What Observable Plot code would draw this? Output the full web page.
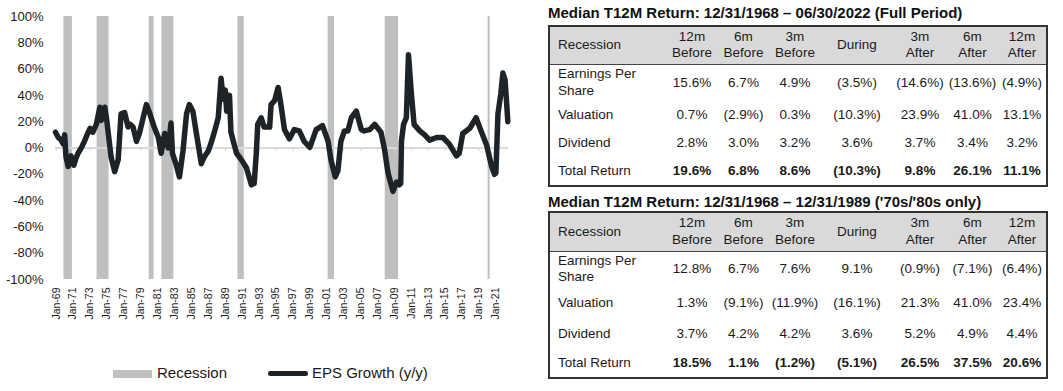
<!DOCTYPE html>
<html><head><meta charset="utf-8">
<script src="https://cdn.jsdelivr.net/npm/d3@7"></script>
<script src="https://cdn.jsdelivr.net/npm/@observablehq/plot@0.6"></script>
<style>
body{margin:0;background:#fff;font-family:"Liberation Sans",Arial,sans-serif;color:#1a1a1a}
#wrap{position:relative;width:1063px;height:391px;overflow:hidden}
#chart{position:absolute;left:0;top:0}
.lg{position:absolute;top:363px;height:20px;line-height:20px;font-size:15px;color:#1a1a1a;white-space:nowrap}
.sw1{position:absolute;left:113px;top:370px;width:39px;height:8px;background:#bfbfbf}
.sw2{position:absolute;left:268px;top:371px;width:40px;height:5px;border-radius:3px;background:#1e2327}
.ttl{position:absolute;left:548px;font-weight:bold;font-size:15px;line-height:20px;white-space:nowrap;color:#111}
table{position:absolute;left:548px;width:499px;border-collapse:collapse;table-layout:fixed;border:2px solid #333;font-size:13.5px;color:#1a1a1a}
th{background:#d9d9d9;font-weight:normal;line-height:16.5px;white-space:pre-line;text-align:center;padding:0;border-bottom:1px solid #444}
th.first,td.first{text-align:left;padding-left:8px}
td{text-align:center;padding:0;white-space:pre-line;line-height:16.5px}
tr.tot td.v{font-weight:bold}
</style></head>
<body><div id="wrap">
<div id="chart"></div>
<div class="sw1"></div><div class="lg" style="left:157px">Recession</div>
<div class="sw2"></div><div class="lg" style="left:312px">EPS Growth (y/y)</div>
<div class="ttl" id="t1" style="top:3px"></div>
<div class="ttl" id="t2" style="top:192px"></div>
</div>
<script>
// ---- EPS growth (y/y), % ----
const epsDates = ["1968-12","1969-04","1969-08","1969-11","1970-01","1970-03","1970-06","1970-08","1970-10","1971-02","1971-05","1971-08","1972-01","1972-05","1972-08","1973-01","1973-05","1973-10","1974-03","1974-05","1974-10","1975-01","1975-03","1975-07","1975-12","1976-05","1976-09","1977-02","1977-07","1977-10","1978-02","1978-07","1978-11","1979-04","1979-09","1980-02","1980-08","1981-02","1981-06","1981-11","1982-04","1982-08","1982-10","1983-03","1983-08","1984-01","1984-06","1984-10","1985-03","1985-08","1986-03","1986-07","1987-01","1987-05","1987-10","1988-03","1988-07","1988-10","1989-01","1989-03","1989-07","1989-09","1990-05","1990-12","1991-07","1992-02","1992-06","1992-09","1992-11","1993-04","1993-08","1994-04","1994-06","1994-11","1995-04","1995-08","1996-01","1996-08","1997-03","1997-10","1998-05","1999-01","1999-10","2000-07","2001-03","2001-07","2002-01","2002-05","2002-09","2003-02","2003-07","2003-12","2004-07","2005-02","2005-06","2006-02","2006-09","2007-06","2007-11","2008-04","2008-08","2008-11","2009-04","2009-08","2009-10","2009-11","2010-02","2010-06","2010-09","2011-01","2011-05","2012-01","2012-08","2013-03","2014-01","2014-10","2015-07","2016-05","2016-09","2017-02","2017-12","2018-09","2019-04","2019-12","2020-07","2020-11","2021-01","2021-02","2021-04","2021-08","2021-11","2022-02","2022-04","2022-06"];
const epsValues = [12,8,6,3,10,-7,-14,-8,-6,-13,-8,-4,0.5,5,9,15,12,18,31,21,31,20,11,-7,-18,-9,26,27,16,18,16,5,11,22,33,26,16,8,-4,11,0,19,-4,-12,-22,-2,26,33,28,11,-12,-7,-2,4,13,23,53,37,44,28,40,12,-4,-9,-15,-28,-27,-4,18,23,16,16,33,36,46,33,14,7,14,13,5,0.5,14,17,5,-9,-22,-17,5,13,13,23,28,14,13,14,18,12,-1,-19,-27,-33,-26,-28,-27,5,18,23,71,42,18,13,10,6,8,8,3,-6,-4,11,15,23,13,2,-14,-20,-19,-4,26,41,57,52,37,20];

// ---- NBER recessions (first and last month) ----
const recessionStarts = ["1969-12","1973-11","1980-01","1981-07","1990-07","2001-03","2007-12","2020-02"];
const recessionEnds   = ["1970-11","1975-03","1980-07","1982-11","1991-03","2001-11","2009-06","2020-04"];

// ---- axis ticks ----
const yTicks = [-100,-80,-60,-40,-20,0,20,40,60,80,100];
const xTickMonths = ["1969-01","1971-01","1973-01","1975-01","1977-01","1979-01","1981-01","1983-01","1985-01","1987-01","1989-01","1991-01","1993-01","1995-01","1997-01","1999-01","2001-01","2003-01","2005-01","2007-01","2009-01","2011-01","2013-01","2015-01","2017-01","2019-01","2021-01"];
const xDomain = ["1968-12","2022-07"];

// ---- tables ----
const title1 = "Median T12M Return: 12/31/1968 – 06/30/2022 (Full Period)";
const title2 = "Median T12M Return: 12/31/1968 – 12/31/1989 ('70s/'80s only)";
const headers = ["Recession","12m\nBefore","6m\nBefore","3m\nBefore","During","3m\nAfter","6m\nAfter","12m\nAfter"];
const rowLabels = ["Earnings Per\nShare","Valuation","Dividend","Total Return"];
const fullEps = [15.6,6.7,4.9,-3.5,-14.6,-13.6,-4.9];
const fullVal = [0.7,-2.9,0.3,-10.3,23.9,41.0,13.1];
const fullDiv = [2.8,3.0,3.2,3.6,3.7,3.4,3.2];
const fullTot = [19.6,6.8,8.6,-10.3,9.8,26.1,11.1];
const s7080Eps = [12.8,6.7,7.6,9.1,-0.9,-7.1,-6.4];
const s7080Val = [1.3,-9.1,-11.9,-16.1,21.3,41.0,23.4];
const s7080Div = [3.7,4.2,4.2,3.6,5.2,4.9,4.4];
const s7080Tot = [18.5,1.1,-1.2,-5.1,26.5,37.5,20.6];

const parse = d3.utcParse("%Y-%m");
const eps = epsDates.map((d,i)=>({date:parse(d), value:epsValues[i]}));
const rec = recessionStarts.map((s,i)=>({start:parse(s), end:d3.utcMonth.offset(parse(recessionEnds[i]),1)}));
const xTicks = xTickMonths.map(parse);

const chart = Plot.plot({
  width: 530, height: 340,
  marginLeft: 55, marginRight: 22, marginTop: 16, marginBottom: 61,
  style: {fontFamily: '"Liberation Sans", Arial, sans-serif', color: "#1a1a1a", background: "#fff"},
  x: {type: "utc", domain: xDomain.map(parse)},
  y: {domain: [-100, 100]},
  marks: [
    Plot.rect(rec, {x1: "start", x2: "end", fill: "#bfbfbf"}),
    Plot.ruleY([0], {stroke: "#d9d9d9", strokeWidth: 2}),
    Plot.ruleX(xTicks, {x: d=>d, y1: 0, y2: -2.5, stroke: "#d9d9d9", strokeWidth: 1.2}),
    Plot.line(eps, {x: "date", y: "value", stroke: "#1e2327", strokeWidth: 5.5, strokeLinejoin: "round", strokeLinecap: "round"}),
    Plot.axisY({ticks: yTicks, tickFormat: d => d + "%", tickSize: 0, tickPadding: 12, fontSize: 13, label: null}),
    Plot.axisX({ticks: xTicks, tickFormat: d3.utcFormat("%b-%y"), tickRotate: -90, tickSize: 0, tickPadding: 8, fontSize: 10.5, label: null})
  ]
});
document.getElementById("chart").appendChild(chart);

const fmt = v => v < 0 ? "(" + (-v).toFixed(1) + "%)" : v.toFixed(1) + "%";
function makeTable(top, rows, heights){
  const t = document.createElement("table");
  t.style.top = top + "px";
  const cg = document.createElement("colgroup");
  [117,52,51,52,72,54,51,49].forEach(w=>{const c=document.createElement("col");c.style.width=w+"px";cg.appendChild(c);});
  t.appendChild(cg);
  const hr = document.createElement("tr");
  hr.style.height = heights[0] + "px";
  headers.forEach((h,i)=>{const th=document.createElement("th"); th.textContent=h; if(i===0) th.className="first"; hr.appendChild(th);});
  t.appendChild(hr);
  rows.forEach((vals,ri)=>{
    const tr = document.createElement("tr");
    tr.style.height = heights[ri+1] + "px";
    if (ri===3) tr.className = "tot";
    const td0 = document.createElement("td"); td0.className="first"; td0.textContent = rowLabels[ri]; tr.appendChild(td0);
    vals.forEach(v=>{const td=document.createElement("td"); td.className="v"; td.textContent=fmt(v); tr.appendChild(td);});
    t.appendChild(tr);
  });
  document.getElementById("wrap").appendChild(t);
}
document.getElementById("t1").textContent = title1;
document.getElementById("t2").textContent = title2;
makeTable(25, [fullEps, fullVal, fullDiv, fullTot], [38,37,28,29,28]);
makeTable(211, [s7080Eps, s7080Val, s7080Div, s7080Tot], [39,36,33,29,29]);
</script>
</body></html>
